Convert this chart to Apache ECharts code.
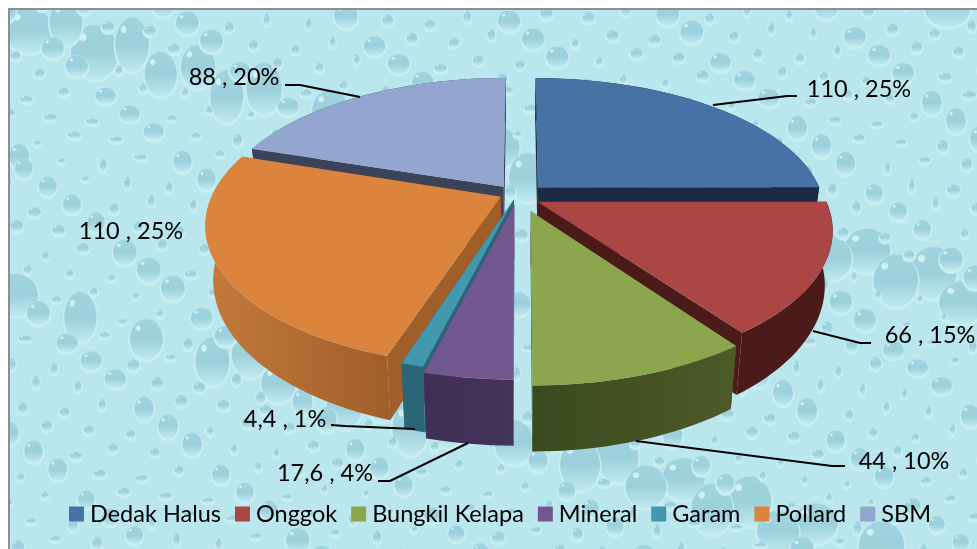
<!DOCTYPE html>
<html><head><meta charset="utf-8">
<style>html,body{margin:0;padding:0;background:#fff}#c{width:977px;height:549px}</style>
<script src="https://cdn.jsdelivr.net/npm/echarts@6/dist/echarts.min.js"></script>
</head><body><div id="c"></div>
<script>
const categories = ['Dedak Halus','Onggok','Bungkil Kelapa','Mineral','Garam','Pollard','SBM'];
const values = [110,66,44,17.6,4.4,110,88];
const topColors = ['#4672A6','#AA4643','#8BA64D','#71588F','#4198AF','#DB843D','#93A6CF'];
const wallColors = [['#1B2B45','#1B2B45'],['#4A1B19','#4A1B19'],['#3A4A1E','#4E5A28'],['#3F2F55','#44345C'],['#2A6578','#2A6578'],['#C47A3C','#A05E28'],['#3C4257','#3C4257']];
const paintOrder = [6,0,5,4,3,1,2];
const sliceNudge = [[2,2],[-3,-3],[3,-2],[-4,-9],[-1,-14],[-1,-8],[-5,3]];
// label layout: text centre, leader points
const labelLayout = [
 {x:859,y:89,line:[[713,105],[787,96],[797,96]]},
 {x:930,y:335,line:[[813,331],[860,343],[871,343]]},
 {x:904,y:461,line:[[636,441],[832,466],[845,466]]},
 {x:325,y:473,line:[[468,443],[390,481],[378,481]]},
 {x:285,y:419,line:[[331,425],[345,426],[415,429]]},
 {x:131,y:231,line:null},
 {x:234,y:77,line:[[285,85],[300,85],[360,97]]}
];
const GEO = {cx:521,cy:197,A:286,B:134,k:0.19,ex:0.075,ey:0.125,H:52,shrink:0.975};
const total = values.reduce((a,b)=>a+b,0);
const spans=[];(()=>{let a=0;values.forEach(v=>{const s=v/total*360;spans.push([a,a+s]);a+=s;});})();
function proj(u,v,low,nudge){
  const d=1-GEO.k*v;
  let x=GEO.A*u/d, y=GEO.B*v/d;
  if(low){x*=GEO.shrink;y+=GEO.H/d;}
  return [GEO.cx+x+nudge[0],GEO.cy+y+nudge[1]];
}
function sliceShapes(i){
  const [a0,a1]=spans[i];const nu=sliceNudge[i];
  const mid=(a0+a1)/2*Math.PI/180;
  const ou=Math.sin(mid)*GEO.ex, ov=-Math.cos(mid)*GEO.ey;
  const rim=[];const n=Math.max(6,Math.ceil((a1-a0)/2));
  for(let j=0;j<=n;j++){const t=(a0+(a1-a0)*j/n)*Math.PI/180;rim.push([ou+Math.sin(t),ov-Math.cos(t)]);}
  const top=rim.map(p=>proj(p[0],p[1],false,nu));
  const bot=rim.map(p=>proj(p[0],p[1],true,nu));
  const apexT=proj(ou,ov,false,nu),apexB=proj(ou,ov,true,nu);
  return {top,bot,apexT,apexB};
}
function poly(points,fill){return {type:'polygon',shape:{points},style:{fill,stroke:null},silent:true};}
function renderSlice(i){
  const s=sliceShapes(i);
  const w=wallColors[i];
  const grad={type:'linear',x:0,y:0,x2:1,y2:0,colorStops:[{offset:0,color:w[0]},{offset:1,color:w[1]}]};
  const last=s.top.length-1;
  return {type:'group',children:[
    poly([s.apexT,s.top[0],s.bot[0],s.apexB],w[1]),
    poly([s.apexT,s.top[last],s.bot[last],s.apexB],w[1]),
    poly(s.top.concat(s.bot.slice().reverse()),grad),
    poly([s.apexT].concat(s.top),topColors[i])
  ]};
}
function fmt(v){return String(v).replace('.',',');}
const series = paintOrder.map((i,order)=>({
  type:'custom',name:categories[i],coordinateSystem:'none',z:3+order,silent:true,
  itemStyle:{color:topColors[i]},data:[values[i]],
  renderItem:()=>renderSlice(i),animation:false
}));
series.push({type:'custom',name:'labels',coordinateSystem:'none',z:20,silent:true,animation:false,
  data:values.map((v,i)=>[i,v]),
  renderItem:(p,api)=>{
    const i=api.value(0),v=api.value(1),l=labelLayout[i];
    const ch=[{type:'text',x:l.x,y:l.y,style:{text:fmt(v)+' , '+Math.round(v/total*100)+'%',fill:'#000',font:'23.5px Lato',align:'center',verticalAlign:'middle'}}];
    if(l.line)ch.push({type:'polyline',shape:{points:l.line},style:{stroke:'#000',lineWidth:2,fill:null}});
    return {type:'group',children:ch};
  }});
// decorative water-drop texture
const bg=[];
bg.push({type:'rect',shape:{x:9,y:9,width:968,height:540},style:{fill:'#BAE6EE'},z:0});
function drop(x,y,rx,ry){
  bg.push({type:'ellipse',shape:{cx:x,cy:y+1.5,rx:rx+1.5,ry:ry+1.5},style:{fill:'#C8EEF3'},z:0});
  bg.push({type:'ellipse',shape:{cx:x,cy:y,rx,ry},style:{fill:{type:'linear',x:0,y:0,x2:0,y2:1,colorStops:[{offset:0,color:'#A0D4DF'},{offset:0.5,color:'#9CD0DC'},{offset:1,color:'#BFE9F0'}]}},z:0});
  bg.push({type:'ellipse',shape:{cx:x-rx*0.5,cy:y-ry*0.55,rx:Math.max(0.8,rx*0.16),ry:Math.max(0.8,ry*0.14)},style:{fill:'#CFF1F5'},z:0});
}
const dropOrder=[];
for(let i=1;i<=620;i++){
  const x=(i*0.7548776662%1)*985, y=(i*0.5698402910%1)*560;
  const big=i%13===0, mid=i%4===0;
  const rx=big?16+(i*0.37%1)*8:mid?8+(i*0.61%1)*4:2.5+(i*0.83%1)*4;
  const ry=big?19+(i*0.53%1)*9:mid?8+(i*0.47%1)*5:2.5+(i*0.29%1)*4;
  dropOrder.push([x,y,rx,ry]);
}
dropOrder.sort((a,b)=>b[2]-a[2]).forEach(d=>drop(d[0],d[1],d[2],d[3]));
bg.push({type:'rect',shape:{x:0,y:0,width:977,height:8},style:{fill:'#fff'},z:0});
bg.push({type:'rect',shape:{x:0,y:0,width:8,height:549},style:{fill:'#fff'},z:0});
bg.push({type:'polyline',shape:{points:[[9,549],[9,9],[977,9]]},style:{stroke:'#8E8E8E',lineWidth:2,fill:null},z:0});
const chart=echarts.init(document.getElementById('c'),null,{renderer:'canvas'});
chart.setOption({
  animation:false,
  backgroundColor:'#fff',
  graphic:{elements:bg.map(e=>Object.assign({silent:true},e))},
  legend:{data:categories,left:64,top:497,icon:'rect',itemWidth:15,itemHeight:15,itemGap:14,
    selectedMode:false,textStyle:{fontFamily:'Lato',fontSize:23.5,color:'#000',padding:[0,0,0,1]}},
  series
});
</script></body></html>
